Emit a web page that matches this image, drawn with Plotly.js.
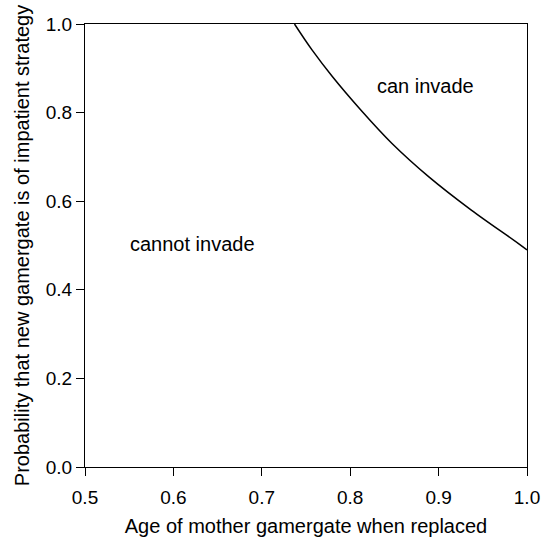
<!DOCTYPE html>
<html>
<head>
<meta charset="utf-8">
<script src="https://cdn.plot.ly/plotly-3.0.1.min.js"></script>
<style>html,body{margin:0;padding:0;background:#fff;}</style>
</head>
<body>
<div id="chart" style="width:541px;height:545px;"></div>
<script>
// Boundary curve
const ageX = [0.737, 0.757, 0.780, 0.812, 0.847, 0.889, 0.937, 0.990, 1.0];
const probY = [1.0, 0.941, 0.881, 0.806, 0.731, 0.655, 0.580, 0.505, 0.490];

const regionLabels = ["can invade", "cannot invade"];
const labelX = [0.885, 0.622];
const labelY = [0.86, 0.503];

const xTicks = [0.5, 0.6, 0.7, 0.8, 0.9, 1.0];
const yTicks = [0.0, 0.2, 0.4, 0.6, 0.8, 1.0];

const FONT = 'Liberation Sans, Arial, sans-serif';

const trace = {
  x: ageX, y: probY, mode: 'lines', type: 'scatter',
  line: {color: '#000', width: 1.5, shape: 'spline'},
  hoverinfo: 'skip'
};

const annotations = regionLabels.map((t, i) => ({
  x: labelX[i], y: labelY[i], xref: 'x', yref: 'y', text: t, showarrow: false,
  font: {family: FONT, size: 20, color: '#000'}
}));

const layout = {
  width: 541, height: 545,
  margin: {l: 85, r: 14, t: 24, b: 78},
  paper_bgcolor: '#fff', plot_bgcolor: '#fff',
  showlegend: false,
  xaxis: {
    showgrid: false, zeroline: false, showline: true, linecolor: '#000', linewidth: 1,
    mirror: true, ticks: 'outside', ticklen: 8, tickcolor: '#000', tickwidth: 1,
    ticklabeloverflow: 'allow',
    range: [0.5, 1.0], tickvals: xTicks, ticktext: xTicks.map(v => v.toFixed(1)),
    ticklabelstandoff: 5,
    tickfont: {family: FONT, size: 19, color: '#000'},
    title: {text: 'Age of mother gamergate when replaced', standoff: 12,
      font: {family: FONT, size: 20, color: '#000'}}
  },
  yaxis: {
    showgrid: false, zeroline: false, showline: true, linecolor: '#000', linewidth: 1,
    mirror: true, ticks: 'outside', ticklen: 8, tickcolor: '#000', tickwidth: 1,
    range: [0, 1.0], tickvals: yTicks, ticktext: yTicks.map(v => v.toFixed(1)),
    tickfont: {family: FONT, size: 19, color: '#000'},
    title: {text: 'Probability that new gamergate is of impatient strategy', standoff: 10,
      font: {family: FONT, size: 20, color: '#000'}}
  },
  annotations: annotations
};

Plotly.newPlot('chart', [trace], layout, {displayModeBar: false, staticPlot: true});
</script>
</body>
</html>
